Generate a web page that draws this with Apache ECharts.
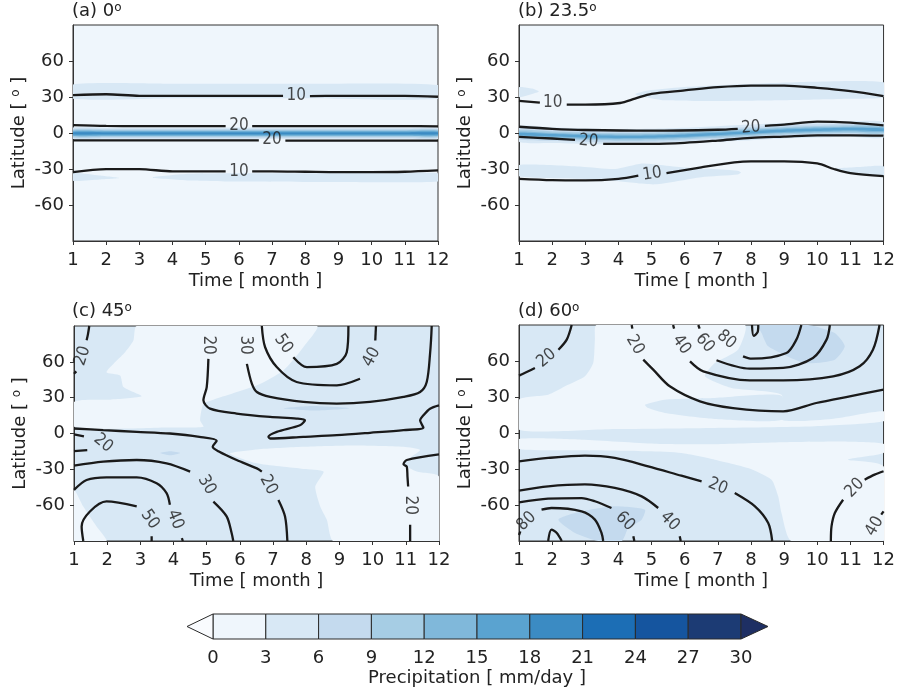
<!DOCTYPE html>
<html><head><meta charset="utf-8">
<script src="https://cdn.jsdelivr.net/npm/echarts@6/dist/echarts.min.js"></script>
<style>html,body{margin:0;padding:0;background:#fff}#c{width:898px;height:693px}</style>
</head><body><div id="c"></div>
<script>
// ================= DATA =================
const months = [1,2,3,4,5,6,7,8,9,10,11,12];
const latTicks = [-60,-30,0,30,60];
const levelEdges = [0,3,6,9,12,15,18,21,24,27,30];
const panelTitles = ['(a) 0', '(b) 23.5', '(c) 45', '(d) 60'];

// ---- panel (a) obliquity 0 ----
const aPatches36 = [
  [[1,40.5],[4,41],[8,41],[12,40],[12,28.5],[8,29],[4,29],[1,28.5]],
  [[1,-33.5],[1.8,-35.5],[2.4,-37.6],[1.8,-38.8],[1,-39.8]],
  [[3.4,-37],[4.5,-34],[6,-33.5],[9,-33.5],[12,-33.5],[12,-40.4],[9,-40.8],[6,-40.4],[4.5,-39.5]]
];
const aEqCenter = [-0.3,-0.3,-0.3,-0.3,-0.3,-0.3,-0.3,-0.3,-0.3,-0.3,-0.3,-0.3];
const aEqHalfWidth = [4.8,3.8,3.0,2.2,1.5,0.8];   // levels 3-6 ... 18-21
const aLines = [
  [[1,31.5],[2,32.3],[3,31],[4,31],[5,31],[6,31],[7,31],[7.33,31]],
  [[8.14,30.8],[9,31],[10,31],[11,31],[12,30.2]],
  [[1,6.6],[2,5.9],[3,5.8],[4,5.8],[5,5.8],[5.6,5.8]],
  [[6.4,5.8],[7,5.8],[8,5.8],[9,5.8],[10,5.8],[11,5.8],[12,5.6]],
  [[1,-6.1],[2,-6.1],[3,-6.1],[4,-6.1],[5,-6.1],[6,-6.2],[6.6,-6.2]],
  [[7.4,-6.3],[8,-6.3],[9,-6.3],[10,-6.4],[11,-6.4],[12,-6.4]],
  [[1,-32.6],[2,-30.1],[3,-30.1],[4,-32],[5,-32],[5.6,-32]],
  [[6.4,-32],[7,-32],[8,-32.3],[9,-32.6],[10,-32.6],[11,-32.3],[12,-31.2]]
];
const aLabels = [[7.73,31,'10'],[6.0,5.8,'20'],[7.0,-5.8,'20'],[6.0,-31.8,'10']];

// ---- panel (b) obliquity 23.5 ----
const bPatches36 = [
  [[1,38.2],[1.4,37],[1.6,34.5],[1.4,32.5],[1,30]],
  [[4.5,32.5],[4.9,35.5],[5.9,38.2],[7.9,40.9],[9.9,42.8],[12,42.3],[12,30],[10.9,28.6],[8.9,27.3],[6.9,26.7],[5.4,27.3],[4.7,30.5]],
  [[1,-26.7],[2.9,-28.1],[3.9,-30],[4.7,-25.4],[5.2,-26.5],[5.9,-28.6],[7.6,-31.4],[7.7,-33],[7.6,-34.6],[6.5,-36.8],[5.1,-42.8],[3.9,-40.1],[2.9,-38.2],[1,-36]],
  [[10.5,-30],[11.4,-28.1],[12,-27.8],[12,-35.7],[11.3,-34.6]]
];
const bEqCenter = [-0.8,-1.9,-2.7,-3.3,-3,-2.2,-0.8,0.5,1.9,2.7,3.3,2.7];
const bEqHalfWidth = [6.5,4.5,3.2,2.0,1.0];
const bLines = [
  [[1,26.7],[1.63,25.3]],
  [[2.44,23.7],[3,23.7],[4.05,25],[4.5,28.6],[5,32.7],[6,35.5],[7,38.2],[8,39.5],[9,39.5],[10,37.6],[11,34.9],[12,30.8]],
  [[1,5.2],[2,3.5],[3,2.5],[5,1.9],[7,2.7],[7.6,3.5]],
  [[8.42,6.0],[9,7.0],[10,9.5],[11,8.7],[12,6.3]],
  [[1,-3.3],[2,-4.6],[2.69,-5.7]],
  [[3.54,-9],[5,-9],[6,-8.2],[7,-6.3],[8,-4.1],[9,-3],[10,-1.9],[11,-1.9],[12,-2.2]],
  [[1,-38.2],[2,-39.3],[3,-39.5],[4,-38.2],[4.6,-35.5]],
  [[5.45,-33.5],[6.5,-28.6],[7.5,-24.5],[8,-23.6],[9,-23.6],[10,-25.4],[10.5,-30],[11,-33.5],[12,-36]]
];
const bLabels = [[2.02,25,'10'],[8.0,4.6,'20'],[3.1,-6.8,'20'],[5.02,-34.1,'10']];

// ---- panel (c) obliquity 45 (background 3-6) ----
const cLight = [
  [[2.89,90],[8.32,90],[7.91,72.2],[7.31,52.8],[6.51,40.3],[5.2,28.3],[4.9,25],[4.8,11.1],[4.9,5.6],[3.89,5],[1,5.6],[1,26.4],[2.09,28.3],[3.04,31.1],[2.49,38.9],[2.39,48.6],[1.98,51.4],[2.54,68.1],[2.79,77.8]],
  [[5.7,-16.7],[6.51,-13.3],[7.91,-11.1],[9.42,-10],[10.93,-11.1],[11.43,-13.9],[10.93,-25],[11.33,-31.9],[12,-36.1],[12,-90],[8.82,-90],[8.62,-72.2],[8.42,-61.1],[8.27,-44.4],[8.52,-31.9],[7.91,-29.7],[6.51,-25]],
  [[1,-47.2],[1.28,-61.1],[1.68,-77.8],[1.98,-90],[1,-90]]
];
const cPatches69 = [
  [[3.6,-16.4],[3.9,-14.9],[4.2,-16.4],[3.9,-18.3]],
  [[7.31,21.1],[8.2,23],[9.3,21.2],[8.2,19.2]]
];
const cLines = [
  [[1.46,90],[1.42,83],[1.38,78]],
  [[1.07,52],[1,50]],
  [[1,-0.8],[1.3,-2.5]],
  [[1.4,-13.9],[1,-14.7]],
  [[1,4.2],[1.88,2.8],[2.89,1.4],[3.89,0],[4.78,-2.8],[5.3,-6.1],[5.18,-11.1],[5.38,-15.3],[5.9,-22.2],[6.51,-29.2],[6.66,-31.9]],
  [[7.16,-55.6],[7.36,-69.4],[7.43,-90]],
  [[1,-26.9],[1.88,-23.6],[2.89,-22.2],[3.79,-25],[4.5,-31.9]],
  [[5.2,-57],[5.6,-69.4],[5.75,-83.3],[5.8,-90]],
  [[1,-47.2],[1.38,-38.9],[1.98,-36.7],[2.89,-36.7],[3.49,-41.7],[3.79,-50],[3.89,-59.7]],
  [[4.25,-87.5],[4.28,-90]],
  [[1.28,-90],[1.23,-77.8],[1.48,-65.3],[1.98,-56.9],[2.89,-61.1]],
  [[3.34,-86],[3.34,-90]],
  [[5.05,62.5],[5.0,38.9],[4.9,27.8],[5.1,20.8],[5.9,16.7],[6.91,13.9],[7.71,12.5],[7.96,11.1],[7.81,6.9],[7.11,1.4],[6.86,-2.8],[6.91,-4.2],[7.91,-2.8],[8.92,-1.4],[9.92,0.6],[10.93,2.8],[11.53,5],[11.43,11.1],[11.53,15.3],[11.73,20.8],[12,23.6]],
  [[6.21,58.3],[6.36,41.7],[6.51,34.7],[6.91,30.6],[7.91,26.4],[8.92,25],[9.92,26.4],[10.93,30.6],[11.43,34.7],[11.63,43.1],[11.73,66.7],[11.78,90]],
  [[6.66,90],[6.76,72.2],[7.11,55.6],[7.71,43.1],[8.92,40.3],[9.62,45.8]],
  [[10.08,77.8],[10.1,90]],
  [[7.61,63.9],[8.02,55.6],[8.92,58.3],[9.22,68.1],[9.27,90]],
  [[12,-17.5],[11.03,-22.2],[10.93,-25.8],[11.03,-27.8],[11.05,-36.1],[11.07,-44.4]],
  [[11.13,-76.4],[11.13,-90]]
];
const cLabels = [[1.26,65,'20'],[1.88,-8,'20'],[6.86,-43,'20'],[5.0,-43,'30'],[4.05,-72,'40'],[3.29,-72,'50'],
                 [5.05,74,'20'],[6.16,74,'30'],[9.97,64,'40'],[7.31,75,'50'],[11.13,-60,'20']];

// ---- panel (d) obliquity 60 (background 3-6) ----
const dLight = [
  [[3.34,90],[7.81,90],[7.61,69.4],[6.91,58.3],[6.61,47.2],[7.41,37.5],[8.92,31.9],[8.92,11.1],[10.43,11.7],[12,18.1],[12,9.7],[9.92,5.6],[6.91,4.2],[3.89,3.3],[1,2.8],[1,27.8],[1.88,31.9],[2.39,38.9],[2.99,47.2],[3.24,58.3],[3.29,77.8]],
  [[1,-5],[2.89,-5.6],[5.1,-8.9],[6.91,-9.4],[8.92,-7.8],[10.93,-7.2],[12,-8.9],[12,-16.7],[10.93,-22.2],[12,-27.8],[12,-90],[9.22,-90],[8.92,-66.7],[8.82,-52.8],[8.62,-38.9],[7.91,-29.2],[6.91,-22.2],[5.9,-16.7],[4.9,-15.3],[2.89,-14.4],[1,-13.3]]
];
const dPatches36 = [
  [[4.8,23.6],[5.4,27.8],[6.91,29.2],[8.92,31.1],[8.92,11.1],[6.91,11.7],[5.4,16.7],[4.9,20.8]]
];
const dPatches69 = [
  [[2.19,-72.2],[2.89,-65.3],[3.89,-61.1],[4.8,-63.9],[4.7,-72.2],[4.3,-79.2],[4.1,-90],[3.39,-90],[2.69,-83.3]],
  [[8.22,90],[9.72,90],[10.53,83.3],[10.83,72.2],[10.53,61.1],[9.62,58.3],[8.52,72.2],[8.32,83.3]]
];
const dLines = [
  [[1,47.8],[1.28,51.4],[1.48,54.2]],
  [[2.19,69.4],[2.44,77.8],[2.59,90]],
  [[4.4,90],[4.42,87]],
  [[4.75,61.1],[5.05,52.8],[5.55,38.9],[6.46,26.4],[7.46,20.8],[8.97,18.1],[9.97,25],[10.98,30.6],[12,36.1]],
  [[5.65,90],[5.68,87]],
  [[6.16,59.7],[6.56,51.4],[7.96,43.9],[8.97,43.9],[10.48,47.2],[11.28,55.6],[11.68,69.4],[11.88,90]],
  [[6.41,90],[6.45,87]],
  [[6.96,60.6],[7.96,53.6],[8.97,54.2],[9.87,62.5],[10.28,77.8],[10.38,90]],
  [[7.76,63.9],[8.02,61.9],[9.07,66.7],[9.37,77.8],[9.52,90]],
  [[8.03,90],[8.08,81],[8.2,84],[8.22,90]],
  [[1,-23.6],[1.88,-20.8],[2.99,-18.9],[3.89,-20.8],[4.9,-27.8],[5.9,-35.6],[6.51,-40.3]],
  [[7.51,-50],[8.12,-61.1],[8.52,-75],[8.64,-90]],
  [[1,-48.1],[1.88,-44.4],[2.99,-42.8],[3.89,-45.8],[4.7,-52.8],[5.2,-62.5]],
  [[5.85,-86.1],[5.88,-90]],
  [[1,-57.8],[1.88,-54.7],[2.89,-54.2],[3.29,-56.9],[3.79,-62.5]],
  [[4.45,-86.1],[4.48,-90]],
  [[1,-85],[1.04,-82]],
  [[1.68,-63.9],[1.98,-62.5],[2.89,-65.3],[3.29,-72.2],[3.49,-83.3],[3.54,-90]],
  [[1.88,-90],[1.98,-80.6],[2.14,-83.3],[2.29,-90]],
  [[12,-31.9],[11.73,-34.7],[11.43,-38.9]],
  [[10.78,-55.6],[10.53,-66.7],[10.43,-77.8],[10.41,-90]],
  [[11.93,-68],[12,-65.3]]
];
const dLabels = [[1.83,62.5,'20'],[4.5,73.6,'20'],[5.9,73.6,'40'],[6.61,75,'60'],[7.26,77.8,'80'],
                 [7.0,-44.4,'20'],[5.55,-73.6,'40'],[4.2,-73.6,'60'],[1.23,-73.6,'80'],[11.13,-45.8,'20'],[11.73,-77.8,'40']];

// ================= STYLE =================
const COLORS = ['#eff6fc','#d8e8f5','#c4daee','#a6cde4','#80b8da','#5aa3d0','#3b8bc3','#1c6eb5','#15559f','#1c3b74'];
const UNDER_COLOR = '#f9fbfe', OVER_COLOR = '#1e2f63';
const labelAngles = {
  a: [0,0,0,0],
  b: [0,5,-5,8],
  c: [72,-40,-62,-60,-68,-55,-90,-90,62,-55,-90],
  d: [40,-60,-55,-50,-40,-22,-45,-45,45,45,60]
};
const grids = [
  {left:73, top:25, width:365, height:216},
  {left:519, top:25, width:365, height:216},
  {left:74, top:326, width:365, height:215},
  {left:519, top:325, width:365, height:216},
  {left:213, top:614, width:528, height:25}
];
const gridBg = ['#eff6fc','#eff6fc','#d8e8f5','#d8e8f5'];
const FONT = 'DejaVu Sans, sans-serif';
const FS = 18;
const LABEL_FONT = 'DejaVu Sans Condensed, DejaVu Sans, sans-serif';

// ================= BUILD =================
function bandPolys(center, halves){
  return halves.map((h,k)=>({
    level: k+1,
    pts: months.map((m,i)=>[m, center[i]+h]).concat(
         months.map((m,i)=>[m, center[i]-h]).reverse())
  }));
}
const panelFills = [
  aPatches36.map(p=>({level:1, pts:p})).concat(bandPolys(aEqCenter, aEqHalfWidth)),
  bPatches36.map(p=>({level:1, pts:p})).concat(bandPolys(bEqCenter, bEqHalfWidth)),
  cLight.map(p=>({level:0, pts:p})).concat(cPatches69.map(p=>({level:2, pts:p}))),
  dLight.map(p=>({level:0, pts:p})).concat(dPatches36.map(p=>({level:1, pts:p}))).concat(dPatches69.map(p=>({level:2, pts:p})))
];
const panelLines = [aLines, bLines, cLines, dLines];
const panelLabels = [aLabels, bLabels, cLabels, dLabels];
const panelAngles = [labelAngles.a, labelAngles.b, labelAngles.c, labelAngles.d];

const xAxes = [], yAxes = [], series = [];
const supRich = {s:{fontSize:12, fontFamily:FONT, color:'#222', verticalAlign:'top', padding:[0,0,6,0]}};

for (let i=0;i<4;i++){
  xAxes.push({
    gridIndex:i, type:'value', min:1, max:12, interval:1,
    axisLine:{show:true, onZero:false, lineStyle:{color:'#333', width:1}},
    axisTick:{show:true, length:4, lineStyle:{color:'#333'}},
    axisLabel:{fontSize:FS, color:'#222', fontFamily:FONT, margin:10},
    splitLine:{show:false},
    name:'Time [ month ]', nameLocation:'middle', nameGap:31,
    nameTextStyle:{fontSize:FS, color:'#222', fontFamily:FONT}
  });
  yAxes.push({
    gridIndex:i, type:'value', min:-90, max:90, interval:30,
    axisLine:{show:true, onZero:false, lineStyle:{color:'#333', width:1}},
    axisTick:{show:true, length:4, customValues:latTicks, lineStyle:{color:'#333'}},
    axisLabel:{fontSize:FS, color:'#222', fontFamily:FONT, margin:9, customValues:latTicks,
               formatter:v=> (Math.abs(v)===90 ? '' : String(v))},
    splitLine:{show:false},
    name:'Latitude [ {s|o} ]', nameLocation:'middle', nameGap:45,
    nameTextStyle:{fontSize:FS, color:'#222', fontFamily:FONT, rich:supRich}
  });
  const polys = panelFills[i];
  series.push({
    type:'custom', xAxisIndex:i, yAxisIndex:i, clip:true, silent:true, z:1,
    data: polys.map(p=>[p.pts[0][0], p.pts[0][1]]),
    renderItem:(params, api)=>{
      const p = polys[params.dataIndex];
      return {type:'polygon', shape:{points:p.pts.map(v=>api.coord(v)), smooth:0.2},
              style:{fill:COLORS[p.level], stroke:null}};
    }
  });
  panelLines[i].forEach(seg=>{
    series.push({type:'line', xAxisIndex:i, yAxisIndex:i, data:seg, smooth:0.3, symbol:'none',
      silent:true, z:3, lineStyle:{color:'#1a1a1a', width:2.3}});
  });
  series.push({
    type:'scatter', xAxisIndex:i, yAxisIndex:i, symbol:'circle', symbolSize:1, z:4, silent:true,
    itemStyle:{color:'rgba(0,0,0,0)'},
    data: panelLabels[i].map((l,k)=>({name:l[2], value:[l[0],l[1]], label:{rotate:panelAngles[i][k]}})),
    label:{show:true, position:'inside', formatter:'{b}', fontSize:17, color:'#1a1a1a', fontFamily:LABEL_FONT}
  });
}
// colorbar axes
xAxes.push({gridIndex:4, type:'value', min:0, max:30, interval:3,
  axisLine:{show:false}, axisTick:{show:false}, splitLine:{show:false},
  axisLabel:{fontSize:FS, color:'#222', fontFamily:FONT, margin:10},
  name:'Precipitation [ mm/day ]', nameLocation:'middle', nameGap:30,
  nameTextStyle:{fontSize:FS, color:'#222', fontFamily:FONT}});
yAxes.push({gridIndex:4, type:'value', min:0, max:1, show:false});
const cbData = levelEdges.slice(0,-1).map((lo,k)=>[lo, levelEdges[k+1], k]);
series.push({
  type:'custom', xAxisIndex:4, yAxisIndex:4, clip:false, silent:true, z:2,
  data: cbData,
  renderItem:(params, api)=>{
    const lo = api.value(0), hi = api.value(1), k = api.value(2);
    const p0 = api.coord([lo,0]), p1 = api.coord([hi,1]);
    const children = [{type:'rect', shape:{x:p0[0], y:p1[1], width:p1[0]-p0[0], height:p0[1]-p1[1]},
      style:{fill:COLORS[k], stroke:'#2a2a2a', lineWidth:1}}];
    const ym = (p0[1]+p1[1])/2;
    if (k===0) children.push({type:'polygon', shape:{points:[[p0[0],p1[1]],[p0[0]-26,ym],[p0[0],p0[1]]]},
      style:{fill:UNDER_COLOR, stroke:'#2a2a2a', lineWidth:1}});
    if (k===cbData.length-1) children.push({type:'polygon', shape:{points:[[p1[0],p1[1]],[p1[0]+27,ym],[p1[0],p0[1]]]},
      style:{fill:OVER_COLOR, stroke:'#2a2a2a', lineWidth:1}});
    return {type:'group', children};
  }
});

const titlePos = [[72,2],[518,2],[72,302],[518,302]];
const graphics = panelTitles.map((t,i)=>({
  type:'text', left:titlePos[i][0], top:titlePos[i][1], z:10,
  style:{text:t+'{s|o}', fontSize:FS, fill:'#222', fontFamily:FONT, rich:supRich}
}));

const chart = echarts.init(document.getElementById('c'), null, {renderer:'canvas', width:898, height:693});
chart.setOption({
  animation:false,
  backgroundColor:'#fff',
  grid: grids.map((g,i)=>Object.assign({show:i<4, backgroundColor:gridBg[i]||'transparent', borderColor:'#333', borderWidth:1, containLabel:false}, g)),
  xAxis:xAxes, yAxis:yAxes, series, graphic:graphics
});
</script></body></html>
